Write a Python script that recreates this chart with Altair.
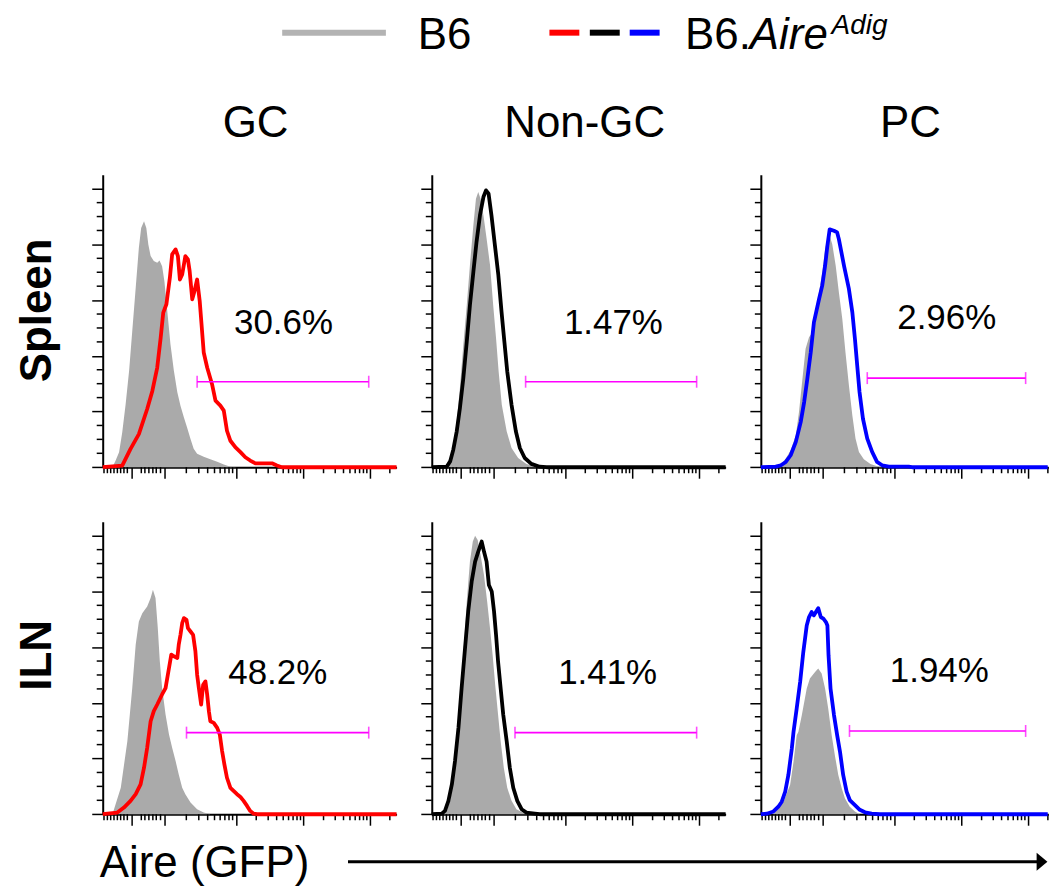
import altair as alt
import numpy as np
import pandas as pd

FONT = "Liberation Sans"
GREY = "#aaaaaa"
MAGENTA = "#ff00ff"

# ---------------- categories / labels ----------------
column_titles = ["GC", "Non-GC", "PC"]
row_titles = ["Spleen", "ILN"]
line_colors = ["#ff0000", "#000000", "#0000ff"]
percent_labels = [["30.6%", "1.47%", "2.96%"], ["48.2%", "1.41%", "1.94%"]]
legend_b6 = "B6"
legend_tg = ["B6.", "Aire", "Adig"]
x_label = "Aire (GFP)"

# ---------------- histogram data: x = display channel, y = % of max ----------------
spleen_gc_b6_x = [34, 45, 57, 68, 80, 92, 103, 115, 126, 134, 144, 152, 159, 167, 178, 190, 198, 207, 215, 225,
                  236, 248, 260, 271, 283, 294, 306, 317, 329, 352, 375, 399, 422, 445, 468]
spleen_gc_b6_y = [0, 2.4, 5.4, 12.5, 22.7, 34.6, 48.9, 64.4, 78.8, 85.9, 88.3, 85.9, 80.0, 75.8, 74.0, 73.4, 74.2, 72.2, 66.8, 56.1,
                  44.2, 34.6, 26.9, 22.1, 17.9, 14.3, 10.1, 6.6, 4.8, 3.8, 2.9, 2.0, 1.0, 0.2, 0]
spleen_gc_tg_x = [0, 68, 97, 126, 155, 173, 190, 202, 211, 222, 234, 242, 254, 262, 269, 277, 288, 297, 303, 312,
                  320, 329, 338, 352, 364, 381, 393, 410, 422, 433, 445, 462, 480, 497, 514, 532, 590, 607, 624, 1024]
spleen_gc_tg_y = [0, 0.6, 6.6, 11.9, 20.9, 27.4, 35.8, 46.5, 55.5, 58.5, 68.0, 76.4, 78.2, 75.8, 67.4, 69.2, 75.8, 74.6, 70.4, 60.3,
                  63.3, 67.4, 59.7, 41.2, 35.8, 29.8, 23.9, 22.1, 20.3, 13.1, 9.5, 7.2, 5.4, 3.6, 2.4, 1.4, 1.4, 0.6, 0, 0]

spleen_ngc_b6_x = [41, 52, 64, 75, 87, 98, 110, 122, 133, 145, 154, 162, 170, 180, 191, 203, 214, 224, 233, 244,
                   261, 278, 301, 330, 365, 388]
spleen_ngc_b6_y = [0, 1.0, 3.3, 8.1, 16.5, 28.4, 43.9, 58.2, 72.6, 86.9, 96.4, 98.8, 96.4, 90.5, 82.1, 72.6, 58.2, 46.3, 34.4, 22.4,
                   12.9, 6.9, 3.3, 1.2, 0.2, 0]
spleen_ngc_tg_x = [0, 52, 64, 75, 87, 98, 110, 122, 133, 145, 156, 168, 180, 189, 198, 208, 220, 232, 243, 253,
                   263, 278, 293, 307, 324, 347, 376, 400, 1024]
spleen_ngc_tg_y = [0, 0.2, 2.1, 6.3, 12.9, 21.2, 32.0, 45.1, 58.2, 70.2, 80.9, 90.5, 97.0, 99.4, 98.2, 90.5, 79.7, 69.0, 55.9, 45.1,
                   34.4, 22.4, 12.9, 6.9, 3.3, 1.2, 0.2, 0, 0]

spleen_pc_b6_x = [52, 70, 87, 104, 122, 133, 145, 156, 168, 180, 191, 203, 214, 224, 232, 240, 249, 261, 272, 284,
                  295, 307, 319, 330, 342, 359, 382, 411, 434]
spleen_pc_b6_y = [0, 1.0, 3.1, 6.1, 11.5, 19.8, 31.7, 42.5, 46.7, 48.5, 54.4, 62.8, 69.9, 78.3, 81.9, 83.1, 80.1, 72.3, 62.8, 53.2,
                  41.3, 29.4, 18.6, 10.3, 5.5, 2.9, 1.2, 0.2, 0]
spleen_pc_tg_x = [0, 52, 70, 87, 104, 122, 139, 151, 162, 174, 185, 203, 214, 224, 232, 240, 255, 266, 272, 290,
                  307, 319, 328, 336, 344, 356, 371, 388, 405, 423, 446, 515, 527, 1000]
spleen_pc_tg_y = [0, 0.2, 0.7, 1.9, 4.3, 9.1, 16.2, 23.4, 31.7, 41.3, 52.0, 60.4, 65.2, 72.3, 79.5, 85.4, 84.9, 84.3, 81.9, 72.3,
                  64.0, 55.6, 46.1, 36.5, 27.0, 17.4, 10.3, 5.5, 1.9, 0.7, 0.2, 0.2, 0, 0]

iln_gc_b6_x = [34, 63, 86, 103, 115, 126, 138, 155, 167, 175, 184, 192, 199, 207, 219, 231, 242, 254, 265, 277,
               288, 306, 329, 352, 375]
iln_gc_b6_y = [0, 9.5, 26.3, 45.3, 60.9, 69.2, 72.2, 74.6, 77.6, 80.6, 77.6, 66.8, 54.9, 45.3, 35.8, 28.6, 23.9, 19.1, 14.3, 9.5,
               7.2, 4.2, 1.8, 0.6, 0]
iln_gc_tg_x = [0, 51, 74, 97, 115, 132, 144, 155, 167, 178, 190, 207, 219, 231, 239, 248, 260, 265, 271, 277,
               283, 292, 297, 306, 315, 323, 329, 335, 343, 350, 358, 364, 370, 375, 387, 399, 408, 416, 424, 433,
               445, 456, 468, 480, 491, 503, 514, 526, 538, 1024]
iln_gc_tg_y = [0, 0.6, 2.4, 4.8, 7.2, 10.7, 16.7, 23.9, 33.4, 37.0, 39.4, 43.0, 45.3, 52.5, 57.3, 56.7, 56.1, 60.9, 64.4, 68.6,
               70.4, 69.8, 66.8, 65.6, 64.4, 58.5, 50.1, 45.3, 39.4, 46.5, 47.7, 43.0, 37.0, 33.4, 32.8, 31.0, 28.6, 22.7, 17.9, 13.1,
               9.5, 8.4, 7.2, 6.2, 4.8, 3.0, 1.2, 0.2, 0, 0]

iln_ngc_b6_x = [41, 52, 64, 75, 87, 99, 110, 122, 133, 143, 151, 160, 170, 182, 193, 203, 212, 221, 231, 240,
                251, 263, 278, 295, 319, 342]
iln_ngc_b6_y = [0, 1.2, 4.8, 11.9, 22.7, 38.2, 57.3, 76.4, 90.7, 97.9, 100, 98.5, 93.1, 85.9, 76.4, 66.8, 57.3, 46.5, 35.8, 26.3,
                16.7, 9.5, 4.8, 1.8, 0.5, 0]
iln_ngc_tg_x = [0, 35, 46, 58, 70, 81, 93, 104, 116, 127, 139, 151, 162, 174, 182, 191, 199, 209, 217, 224,
                231, 240, 249, 261, 272, 284, 298, 313, 330, 359, 376, 1024]
iln_ngc_tg_y = [0, 0.2, 1.2, 4.8, 10.7, 19.1, 31.0, 45.3, 59.7, 72.8, 83.5, 90.7, 94.3, 97.9, 94.3, 90.7, 82.3, 80.0, 72.8, 64.4,
                54.9, 45.3, 35.8, 26.3, 16.7, 9.5, 4.8, 1.8, 0.6, 0.2, 0, 0]

iln_pc_b6_x = [44, 79, 102, 114, 125, 131, 143, 160, 171, 189, 200, 212, 224, 235, 247, 258, 270, 282, 293, 310, 328, 345]
iln_pc_b6_y = [0, 4.5, 10.5, 18.9, 28.4, 29.6, 35.6, 45.1, 48.7, 51.1, 52.3, 50.5, 45.1, 37.9, 28.4, 21.2, 14.1, 9.3, 5.7, 2.7, 1.0, 0]
iln_pc_tg_x = [0, 21, 44, 61, 73, 85, 96, 108, 114, 125, 137, 148, 160, 168, 177, 185, 192, 200, 209, 218,
               227, 232, 236, 243, 255, 266, 276, 287, 299, 310, 328, 345, 363, 386, 415, 1000]
iln_pc_tg_y = [0, 0.2, 1.0, 2.7, 4.5, 8.1, 14.1, 23.6, 29.6, 38.0, 47.5, 58.2, 67.8, 70.8, 72.6, 71.4, 72.6, 74.0, 70.8, 70.2,
               69.0, 67.8, 57.0, 45.1, 35.6, 28.4, 22.4, 14.1, 8.1, 5.1, 3.3, 1.6, 0.7, 0.2, 0, 0]

# gates (channel range, height in %) and percentage label anchors
gate_lo = [[329, 327, 371], [292, 290, 309]]
gate_hi = [[927, 923, 923], [927, 923, 923]]
gate_y = [[30.7, 30.7, 32.0], [29.3, 29.3, 29.9]]
pct_x = [[630, 633, 648], [610, 613, 622]]
pct_y = [[48.0, 47.8, 49.6], [46.6, 46.8, 47.4]]

# axis ticks (display channels): 0, 10^2, 10^3, 10^4, 10^5
x_major = [101, 217, 464, 700, 931]
x_low_minor = [4.5, 16.3, 27.8, 39.3, 51.1, 62.5, 74, 85.8, 134.5, 147, 160.9, 174.8, 186.6, 201.5]
y_major = [0, 20, 40, 60, 80, 100]
y_minor = [v for v in range(5, 100, 5) if v % 20 != 0]

series = [
    [(spleen_gc_b6_x, spleen_gc_b6_y, spleen_gc_tg_x, spleen_gc_tg_y),
     (spleen_ngc_b6_x, spleen_ngc_b6_y, spleen_ngc_tg_x, spleen_ngc_tg_y),
     (spleen_pc_b6_x, spleen_pc_b6_y, spleen_pc_tg_x, spleen_pc_tg_y)],
    [(iln_gc_b6_x, iln_gc_b6_y, iln_gc_tg_x, iln_gc_tg_y),
     (iln_ngc_b6_x, iln_ngc_b6_y, iln_ngc_tg_x, iln_ngc_tg_y),
     (iln_pc_b6_x, iln_pc_b6_y, iln_pc_tg_x, iln_pc_tg_y)],
]

# ---------------- layout ----------------
PANEL_H = 293.3
PANEL_W = [294.7, 294.7, 288.3]
X_MAX = [1024, 1024, 1002]
LABEL_W = 67
ROW_GAP = 54
COL_GAP = 35
TOP = 173.5                      # top of first row of panels
ROW2_TOP = TOP + PANEL_H + ROW_GAP
MAJOR_LEN = 11
MINOR_LEN = 6
LINE_W = 3.8

decades = x_major[1:] + [x_major[-1] + (x_major[-1] - x_major[-2])]
x_log_minor = []
for a, b in zip(x_major[1:], decades[1:]):
    for m in range(2, 10):
        x_log_minor.append(round(a + (b - a) * float(np.log10(m)), 1))
x_minor = x_low_minor + x_log_minor


def axis(values):
    return alt.Axis(values=values, labels=False, title=None, grid=False,
                    domainColor="black", domainWidth=2, tickColor="black", tickWidth=1.5,
                    tickSize=MAJOR_LEN)


def panel(r, c):
    bx, by, tx, ty = series[r][c]
    xmax = X_MAX[c]
    xs = alt.Scale(domain=[0, xmax], nice=False, zero=False)
    ys = alt.Scale(domain=[0, 105], nice=False)
    grey = alt.Chart(pd.DataFrame({"ch": bx, "pct": by})).mark_area(color=GREY, opacity=1).encode(
        x=alt.X("ch:Q", scale=xs, axis=axis([t for t in x_major if t <= xmax])),
        y=alt.Y("pct:Q", scale=ys, axis=axis(y_major)))
    line = alt.Chart(pd.DataFrame({"ch": tx, "pct": ty})).mark_line(
        color=line_colors[c], strokeWidth=LINE_W, strokeJoin="round").encode(x="ch:Q", y="pct:Q")
    xm = alt.Chart(pd.DataFrame({"t": [t for t in x_minor if t <= xmax]})).mark_rule(
        color="black", strokeWidth=1.5).encode(
        x="t:Q", y=alt.value(PANEL_H), y2=alt.value(PANEL_H + MINOR_LEN))
    ym = alt.Chart(pd.DataFrame({"t": y_minor})).mark_rule(color="black", strokeWidth=1.5).encode(
        y="t:Q", x=alt.value(0), x2=alt.value(-MINOR_LEN))
    gdf = pd.DataFrame({"lo": [gate_lo[r][c]], "hi": [gate_hi[r][c]], "g": [gate_y[r][c]]})
    gate = alt.Chart(gdf).mark_rule(color=MAGENTA, strokeWidth=1.6).encode(x="lo:Q", x2="hi:Q", y="g:Q")
    cdf = pd.DataFrame({"e": [gate_lo[r][c], gate_hi[r][c]], "g": [gate_y[r][c]] * 2})
    caps = alt.Chart(cdf).mark_tick(color=MAGENTA, orient="vertical", size=12, thickness=1.6).encode(
        x="e:Q", y="g:Q")
    tdf = pd.DataFrame({"px": [pct_x[r][c]], "py": [pct_y[r][c]], "t": [percent_labels[r][c]]})
    txt = alt.Chart(tdf).mark_text(font=FONT, fontSize=35, align="center", baseline="alphabetic",
                                   color="black").encode(x="px:Q", y="py:Q", text="t:N")
    ch = alt.layer(grey, xm, ym, line, gate, caps, txt).properties(width=PANEL_W[c], height=PANEL_H)
    if r == 0:
        ch = ch.properties(title=alt.TitleParams(column_titles[c], font=FONT, fontSize=44, fontWeight="normal",
                                                 color="black", anchor="middle", frame="group", offset=35,
                                                 dx=6, dy=41, baseline="alphabetic"))
    return ch


one = pd.DataFrame({"k": [0]})


def text_layer(s, x, y, size=44, style="normal", weight="normal", angle=0, align="left"):
    return alt.Chart(pd.DataFrame({"t": [s]})).mark_text(
        font=FONT, fontSize=size, fontStyle=style, fontWeight=weight, angle=angle, align=align,
        baseline="alphabetic", color="black").encode(text="t:N", x=alt.value(x), y=alt.value(y))


def hrule(x0, x1, y, color, width):
    return alt.Chart(one).mark_rule(color=color, strokeWidth=width).encode(
        x=alt.value(x0), x2=alt.value(x1), y=alt.value(y))


# row-label cell of row 1 also carries the legend (drawn above it, page coordinates shifted by TOP)
dy = -TOP
cell0 = alt.layer(
    hrule(0, 1050, dy + 0.5, "white", 1),
    hrule(282, 386, dy + 31, "#b3b3b3", 6),
    text_layer(legend_b6, 418, dy + 47.7),
    *[hrule(x0, x0 + 30, dy + 31, col, 6) for col, x0 in zip(line_colors, [550, 590.5, 630.5])],
    text_layer(legend_tg[0], 686, dy + 47.7),
    text_layer(legend_tg[1], 751, dy + 47.7, style="italic"),
    text_layer(legend_tg[2], 833, dy + 32.5, size=28, style="italic"),
    text_layer(row_titles[0], 50, 136, weight="bold", angle=270, align="center"),
).properties(width=LABEL_W, height=PANEL_H)

# row-label cell of row 2 also carries the x-axis caption and arrow
dy2 = -ROW2_TOP
cell1 = alt.layer(
    hrule(0, 1050, dy2 + 885.5, "white", 1),
    text_layer(row_titles[1], 50, 134, weight="bold", angle=270, align="center"),
    text_layer(x_label, 99, dy2 + 876.7),
    hrule(348, 1040, dy2 + 861.7, "black", 3),
    alt.Chart(one).mark_point(shape="M -0.6 -1 L 0.6 0 L -0.6 1 Z", filled=True, size=324,
                              color="black", opacity=1).encode(x=alt.value(1044), y=alt.value(dy2 + 861.7)),
).properties(width=LABEL_W, height=PANEL_H)

chart = alt.concat(
    cell0, panel(0, 0), panel(0, 1), panel(0, 2),
    cell1, panel(1, 0), panel(1, 1), panel(1, 2),
    columns=4, spacing={"row": ROW_GAP, "column": COL_GAP}, bounds="flush",
).properties(padding=0).configure_view(strokeWidth=0)

chart.save("out.html", embed_options={"renderer": "svg", "actions": False})
